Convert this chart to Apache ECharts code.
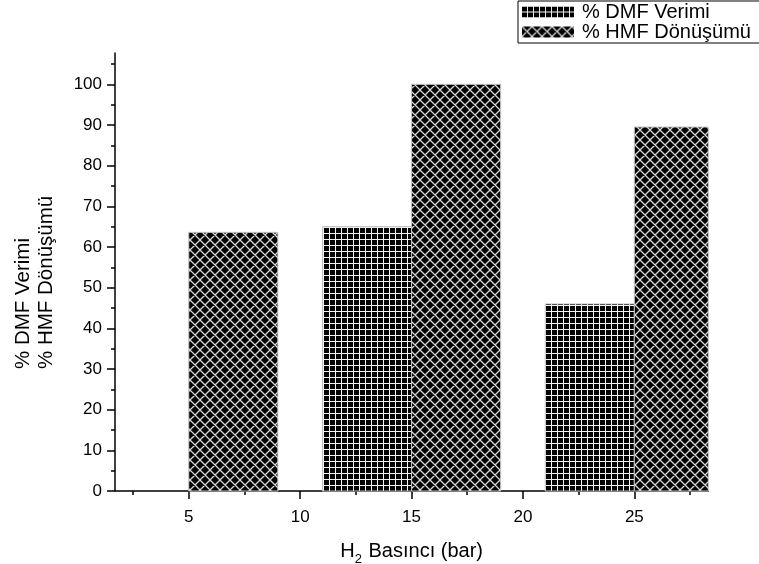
<!DOCTYPE html>
<html>
<head>
<meta charset="utf-8">
<script src="https://cdn.jsdelivr.net/npm/echarts@6/dist/echarts.min.js"></script>
<style>
  html, body { margin: 0; padding: 0; background: #ffffff; }
  #chart { width: 759px; height: 564px; }
</style>
</head>
<body>
<div id="chart"></div>
<script>
// H2 pressure (bar) for each experiment group
const pressures = [5, 15, 25];
// % DMF yield per pressure
const dmfYield = [0, 65, 46];
// % HMF conversion per pressure
const hmfConversion = [63.6, 100, 89.5];

const seriesNames = ['% DMF Verimi', '% HMF Dönüşümü'];
const yTitleLines = ['% DMF Verimi', '% HMF Dönüşümü'];

const xMajorTicks = [5, 10, 15, 20, 25];
const xMinorTicks = [2.5, 7.5, 12.5, 17.5, 22.5, 27.5];
const yMajorTicks = [0, 10, 20, 30, 40, 50, 60, 70, 80, 90, 100];
const yMinorTicks = [5, 15, 25, 35, 45, 55, 65, 75, 85, 95, 105];

const FONT = '"Liberation Sans", Arial, sans-serif';
const BAR_WIDTH = 4;          // bar width in x-axis units
const X_RANGE = [1.69, 28.32];
const Y_RANGE = [0, 107.7];

// Tiled fill patterns for the two series
function makeTile(size, draw) {
  const c = document.createElement('canvas');
  c.width = size; c.height = size;
  draw(c.getContext('2d'), size);
  return c;
}
const gridTile = makeTile(6, (g, s) => {
  g.fillStyle = '#000';
  g.fillRect(0, 0, s, s);
  g.fillStyle = '#f4f4f4';
  g.fillRect(s - 1, 0, 1, s);
  g.fillRect(0, s - 1, s, 1);
});
const crossTile = makeTile(10, (g, s) => {
  g.fillStyle = '#000';
  g.fillRect(0, 0, s, s);
  g.strokeStyle = '#d6d6d6';
  g.lineWidth = 1.3;
  g.beginPath();
  [-s, 0, s].forEach(o => {
    g.moveTo(o - 1, -1); g.lineTo(o + s + 1, s + 1);
    g.moveTo(o + s + 1, -1); g.lineTo(o - 1, s + 1);
  });
  g.stroke();
});
const gridFill = { image: gridTile, repeat: 'repeat' };
const crossFill = { image: crossTile, repeat: 'repeat' };

// Bars spanning [x + from, x + to] in data units, clipped to the plot area
function barRenderer(from, to, fill) {
  return function (params, api) {
    const x = api.value(0);
    const v = api.value(1);
    const p0 = api.coord([x + from, v]);
    const p1 = api.coord([x + to, 0]);
    const rect = echarts.graphic.clipRectByRect(
      { x: p0[0], y: p0[1], width: p1[0] - p0[0], height: p1[1] - p0[1] },
      { x: params.coordSys.x, y: params.coordSys.y, width: params.coordSys.width, height: params.coordSys.height }
    );
    if (!rect) return null;
    return {
      type: 'rect',
      shape: rect,
      style: { fill: fill, stroke: rect.height > 0 ? '#c4c4c4' : null, lineWidth: 1 }
    };
  };
}

const axisLineStyle = { color: '#000', width: 1.5 };

const chart = echarts.init(document.getElementById('chart'), null, { renderer: 'canvas' });
chart.setOption({
  animation: false,
  backgroundColor: '#ffffff',
  grid: { left: 115, right: 50.7, top: 53, bottom: 73, containLabel: false, outerBoundsMode: 'none' },
  legend: {
    orient: 'vertical',
    left: 518,
    top: 1,
    padding: [1, 60, 1, 4],
    itemGap: 0,
    itemWidth: 52,
    itemHeight: 11,
    borderColor: '#000',
    borderWidth: 1,
    borderRadius: 0,
    backgroundColor: '#fff',
    icon: 'rect',
    textStyle: { fontFamily: FONT, fontSize: 20, lineHeight: 18, color: '#000', padding: [0, 0, 0, 3] },
    data: [
      { name: seriesNames[0], itemStyle: { color: gridFill, borderWidth: 0 } },
      { name: seriesNames[1], itemStyle: { color: crossFill, borderWidth: 0 } }
    ]
  },
  xAxis: [
    {
      type: 'value',
      position: 'bottom',
      min: X_RANGE[0],
      max: X_RANGE[1],
      splitLine: { show: false },
      axisLine: { show: true, onZero: false, lineStyle: axisLineStyle },
      axisTick: { show: true, length: 8, lineStyle: { color: '#000', width: 1.5 }, customValues: xMajorTicks },
      axisLabel: { show: true, customValues: xMajorTicks, margin: 18, fontFamily: FONT, fontSize: 17, color: '#000' },
      name: '{t|H}{s|2}{t| Basıncı (bar)}',
      nameLocation: 'middle',
      nameGap: 50,
      nameTextStyle: {
        rich: {
          t: { fontFamily: FONT, fontSize: 20, color: '#000', verticalAlign: 'top', lineHeight: 22 },
          s: { fontFamily: FONT, fontSize: 13, color: '#000', verticalAlign: 'top', lineHeight: 14, padding: [12, 1, 0, 0] }
        }
      }
    },
    {
      type: 'value',
      position: 'bottom',
      min: X_RANGE[0],
      max: X_RANGE[1],
      splitLine: { show: false },
      axisLine: { show: false, onZero: false },
      axisTick: { show: true, length: 4, lineStyle: { color: '#000', width: 1.5 }, customValues: xMinorTicks },
      axisLabel: { show: false }
    }
  ],
  yAxis: [
    {
      type: 'value',
      position: 'left',
      min: Y_RANGE[0],
      max: Y_RANGE[1],
      splitLine: { show: false },
      axisLine: { show: true, onZero: false, lineStyle: axisLineStyle },
      axisTick: { show: true, length: 8, lineStyle: { color: '#000', width: 1.5 }, customValues: yMajorTicks },
      axisLabel: { show: true, customValues: yMajorTicks, margin: 13, fontFamily: FONT, fontSize: 17, color: '#000' }
    },
    {
      type: 'value',
      position: 'left',
      min: Y_RANGE[0],
      max: Y_RANGE[1],
      splitLine: { show: false },
      axisLine: { show: false, onZero: false },
      axisTick: { show: true, length: 4, lineStyle: { color: '#000', width: 1.5 }, customValues: yMinorTicks },
      axisLabel: { show: false }
    }
  ],
  graphic: [
    {
      type: 'text', x: 23, y: 369, rotation: Math.PI / 2,
      style: { text: yTitleLines[0], fontFamily: FONT, fontSize: 20.5, fill: '#000', align: 'left', verticalAlign: 'middle' }
    },
    {
      type: 'text', x: 46, y: 369, rotation: Math.PI / 2,
      style: { text: yTitleLines[1], fontFamily: FONT, fontSize: 20.5, fill: '#000', align: 'left', verticalAlign: 'middle' }
    }
  ],
  series: [
    {
      name: seriesNames[0],
      type: 'custom',
      xAxisIndex: 0,
      yAxisIndex: 0,
      itemStyle: { color: gridFill },
      renderItem: barRenderer(-BAR_WIDTH, 0, gridFill),
      encode: { x: 0, y: 1 },
      data: pressures.map((p, i) => [p, dmfYield[i]])
    },
    {
      name: seriesNames[1],
      type: 'custom',
      xAxisIndex: 0,
      yAxisIndex: 0,
      itemStyle: { color: crossFill },
      renderItem: barRenderer(0, BAR_WIDTH, crossFill),
      encode: { x: 0, y: 1 },
      data: pressures.map((p, i) => [p, hmfConversion[i]])
    }
  ]
});
</script>
</body>
</html>
